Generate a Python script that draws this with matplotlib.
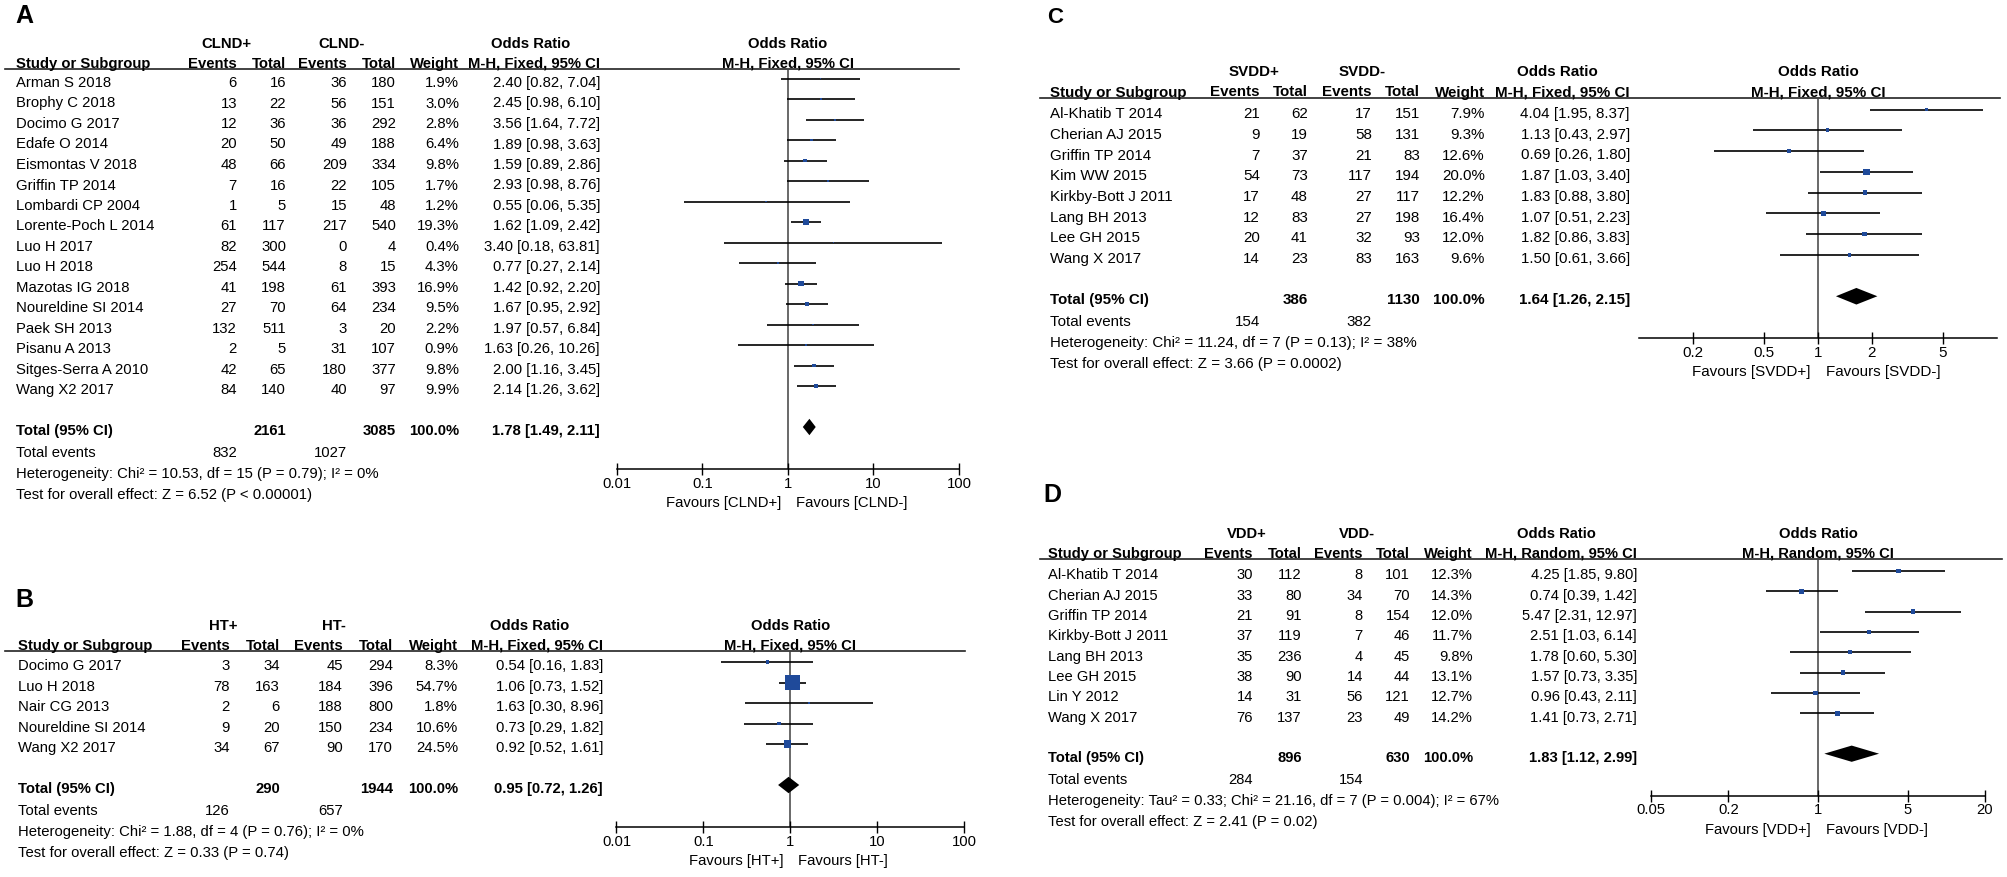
import matplotlib.pyplot as plt
from matplotlib.ticker import NullLocator

plt.rcParams["font.family"] = ["Liberation Sans", "DejaVu Sans"]

# ---------------- data: panel A (CLND) ----------------
a_studies = ["Arman S 2018", "Brophy C 2018", "Docimo G 2017", "Edafe O 2014",
             "Eismontas V 2018", "Griffin TP 2014", "Lombardi CP 2004",
             "Lorente-Poch L 2014", "Luo H 2017", "Luo H 2018", "Mazotas IG 2018",
             "Noureldine SI 2014", "Paek SH 2013", "Pisanu A 2013",
             "Sitges-Serra A 2010", "Wang X2 2017"]
a_ev_pos = [6, 13, 12, 20, 48, 7, 1, 61, 82, 254, 41, 27, 132, 2, 42, 84]
a_tot_pos = [16, 22, 36, 50, 66, 16, 5, 117, 300, 544, 198, 70, 511, 5, 65, 140]
a_ev_neg = [36, 56, 36, 49, 209, 22, 15, 217, 0, 8, 61, 64, 3, 31, 180, 40]
a_tot_neg = [180, 151, 292, 188, 334, 105, 48, 540, 4, 15, 393, 234, 20, 107, 377, 97]
a_weight = [1.9, 3.0, 2.8, 6.4, 9.8, 1.7, 1.2, 19.3, 0.4, 4.3, 16.9, 9.5, 2.2, 0.9, 9.8, 9.9]
a_or = [2.40, 2.45, 3.56, 1.89, 1.59, 2.93, 0.55, 1.62, 3.40, 0.77, 1.42, 1.67, 1.97, 1.63, 2.00, 2.14]
a_lo = [0.82, 0.98, 1.64, 0.98, 0.89, 0.98, 0.06, 1.09, 0.18, 0.27, 0.92, 0.95, 0.57, 0.26, 1.16, 1.26]
a_hi = [7.04, 6.10, 7.72, 3.63, 2.86, 8.76, 5.35, 2.42, 63.81, 2.14, 2.20, 2.92, 6.84, 10.26, 3.45, 3.62]
a_totals = [2161, 3085]
a_total_or = [1.78, 1.49, 2.11]
a_total_events = [832, 1027]
a_het = "Heterogeneity: Chi\u00b2 = 10.53, df = 15 (P = 0.79); I\u00b2 = 0%"
a_test = "Test for overall effect: Z = 6.52 (P < 0.00001)"
a_groups = ["CLND+", "CLND-"]
a_ticks = [0.01, 0.1, 1, 10, 100]
a_tick_labels = ["0.01", "0.1", "1", "10", "100"]

# ---------------- data: panel B (HT) ----------------
b_studies = ["Docimo G 2017", "Luo H 2018", "Nair CG 2013", "Noureldine SI 2014", "Wang X2 2017"]
b_ev_pos = [3, 78, 2, 9, 34]
b_tot_pos = [34, 163, 6, 20, 67]
b_ev_neg = [45, 184, 188, 150, 90]
b_tot_neg = [294, 396, 800, 234, 170]
b_weight = [8.3, 54.7, 1.8, 10.6, 24.5]
b_or = [0.54, 1.06, 1.63, 0.73, 0.92]
b_lo = [0.16, 0.73, 0.30, 0.29, 0.52]
b_hi = [1.83, 1.52, 8.96, 1.82, 1.61]
b_totals = [290, 1944]
b_total_or = [0.95, 0.72, 1.26]
b_total_events = [126, 657]
b_het = "Heterogeneity: Chi\u00b2 = 1.88, df = 4 (P = 0.76); I\u00b2 = 0%"
b_test = "Test for overall effect: Z = 0.33 (P = 0.74)"
b_groups = ["HT+", "HT-"]
b_ticks = [0.01, 0.1, 1, 10, 100]
b_tick_labels = ["0.01", "0.1", "1", "10", "100"]

# ---------------- data: panel C (SVDD) ----------------
c_studies = ["Al-Khatib T 2014", "Cherian AJ 2015", "Griffin TP 2014", "Kim WW 2015",
             "Kirkby-Bott J 2011", "Lang BH 2013", "Lee GH 2015", "Wang X 2017"]
c_ev_pos = [21, 9, 7, 54, 17, 12, 20, 14]
c_tot_pos = [62, 19, 37, 73, 48, 83, 41, 23]
c_ev_neg = [17, 58, 21, 117, 27, 27, 32, 83]
c_tot_neg = [151, 131, 83, 194, 117, 198, 93, 163]
c_weight = [7.9, 9.3, 12.6, 20.0, 12.2, 16.4, 12.0, 9.6]
c_or = [4.04, 1.13, 0.69, 1.87, 1.83, 1.07, 1.82, 1.50]
c_lo = [1.95, 0.43, 0.26, 1.03, 0.88, 0.51, 0.86, 0.61]
c_hi = [8.37, 2.97, 1.80, 3.40, 3.80, 2.23, 3.83, 3.66]
c_totals = [386, 1130]
c_total_or = [1.64, 1.26, 2.15]
c_total_events = [154, 382]
c_het = "Heterogeneity: Chi\u00b2 = 11.24, df = 7 (P = 0.13); I\u00b2 = 38%"
c_test = "Test for overall effect: Z = 3.66 (P = 0.0002)"
c_groups = ["SVDD+", "SVDD-"]
c_ticks = [0.2, 0.5, 1, 2, 5]
c_tick_labels = ["0.2", "0.5", "1", "2", "5"]

# ---------------- data: panel D (VDD) ----------------
d_studies = ["Al-Khatib T 2014", "Cherian AJ 2015", "Griffin TP 2014", "Kirkby-Bott J 2011",
             "Lang BH 2013", "Lee GH 2015", "Lin Y 2012", "Wang X 2017"]
d_ev_pos = [30, 33, 21, 37, 35, 38, 14, 76]
d_tot_pos = [112, 80, 91, 119, 236, 90, 31, 137]
d_ev_neg = [8, 34, 8, 7, 4, 14, 56, 23]
d_tot_neg = [101, 70, 154, 46, 45, 44, 121, 49]
d_weight = [12.3, 14.3, 12.0, 11.7, 9.8, 13.1, 12.7, 14.2]
d_or = [4.25, 0.74, 5.47, 2.51, 1.78, 1.57, 0.96, 1.41]
d_lo = [1.85, 0.39, 2.31, 1.03, 0.60, 0.73, 0.43, 0.73]
d_hi = [9.80, 1.42, 12.97, 6.14, 5.30, 3.35, 2.11, 2.71]
d_totals = [896, 630]
d_total_or = [1.83, 1.12, 2.99]
d_total_events = [284, 154]
d_het = "Heterogeneity: Tau\u00b2 = 0.33; Chi\u00b2 = 21.16, df = 7 (P = 0.004); I\u00b2 = 67%"
d_test = "Test for overall effect: Z = 2.41 (P = 0.02)"
d_groups = ["VDD+", "VDD-"]
d_ticks = [0.05, 0.2, 1, 5, 20]
d_tick_labels = ["0.05", "0.2", "1", "5", "20"]

# ---------------- layout (pixels of the 2008x878 image) ----------------
W, H = 2008, 878
BLUE = "#1f4a9a"

LAYOUT = {
    "A": dict(letter=(15, 23), letter_fs=18, fs=10.7, study_x=16,
              cols=[237, 286, 347, 396, 459, 600], group_x=[226, 342], or_head_x=531,
              forest_px=(617, 959), xlim=(0.01, 100), line_x=(5, 959), line_y=70,
              row0=79.5, dy=20.5, method="Fixed"),
    "B": dict(letter=(15, 607), letter_fs=18, fs=10.7, study_x=18,
              cols=[230, 280, 343, 393, 458, 603], group_x=[223, 334], or_head_x=530,
              forest_px=(616.5, 964.5), xlim=(0.01, 100), line_x=(5, 965), line_y=652,
              row0=663, dy=20.5, method="Fixed"),
    "C": dict(letter=(1047, 23), letter_fs=16, fs=10.9, study_x=1050,
              cols=[1260, 1308, 1372, 1420, 1485, 1630], group_x=[1254, 1362], or_head_x=1557,
              forest_px=(1639.4, 1996.6), xlim=(0.1, 10), line_x=(1040, 2000), line_y=98.5,
              row0=110.5, dy=20.75, method="Fixed"),
    "D": dict(letter=(1043, 502), letter_fs=18, fs=10.6, study_x=1048,
              cols=[1253, 1302, 1363, 1410, 1473, 1637], group_x=[1247, 1357], or_head_x=1556,
              forest_px=(1651, 1985), xlim=(0.05, 20), line_x=(1040, 2002), line_y=560,
              row0=572, dy=20.3, method="Random"),
}

fig = plt.figure(figsize=(W / 100, H / 100), dpi=100)
canvas = fig.add_axes([0, 0, 1, 1])
canvas.set_xlim(0, W)
canvas.set_ylim(H, 0)
canvas.axis("off")


def put(x, y, s, fs, ha="left", bold=False):
    canvas.text(x, y, s, ha=ha, va="baseline", fontsize=fs,
                fontweight="bold" if bold else "normal", color="black")


def draw_panel(key, studies, ev1, tot1, ev2, tot2, weight, est, lo, hi,
               totals, total_or, total_events, het, test, groups, ticks, tick_labels):
    lay = LAYOUT[key]
    fs = lay["fs"]
    cols = lay["cols"]
    n = len(studies)

    def row_px(r):
        return lay["row0"] + r * lay["dy"]

    put(lay["letter"][0], lay["letter"][1], key, lay["letter_fs"], bold=True)

    # header
    ly = lay["line_y"]
    put(lay["group_x"][0], ly - 22, groups[0], fs, ha="center", bold=True)
    put(lay["group_x"][1], ly - 22, groups[1], fs, ha="center", bold=True)
    put(lay["or_head_x"], ly - 22, "Odds Ratio", fs, ha="center", bold=True)
    put(lay["study_x"], ly - 2, "Study or Subgroup", fs, bold=True)
    for x, s in zip(cols[:5], ["Events", "Total", "Events", "Total", "Weight"]):
        put(x, ly - 2, s, fs, ha="right", bold=True)
    method = f"M-H, {lay['method']}, 95% CI"
    put(cols[5], ly - 2, method, fs, ha="right", bold=True)
    canvas.plot(lay["line_x"], [ly, ly], color="#222222", lw=1.2)

    # study rows
    for i in range(n):
        yb = row_px(i) + 7.5
        put(lay["study_x"], yb, studies[i], fs)
        put(cols[0], yb, f"{ev1[i]}", fs, ha="right")
        put(cols[1], yb, f"{tot1[i]}", fs, ha="right")
        put(cols[2], yb, f"{ev2[i]}", fs, ha="right")
        put(cols[3], yb, f"{tot2[i]}", fs, ha="right")
        put(cols[4], yb, f"{weight[i]:.1f}%", fs, ha="right")
        put(cols[5], yb, f"{est[i]:.2f} [{lo[i]:.2f}, {hi[i]:.2f}]", fs, ha="right")

    # summary rows
    y_t = row_px(n + 1)
    put(lay["study_x"], y_t + 7, "Total (95% CI)", fs, bold=True)
    put(cols[1], y_t + 7, f"{totals[0]}", fs, ha="right", bold=True)
    put(cols[3], y_t + 7, f"{totals[1]}", fs, ha="right", bold=True)
    put(cols[4], y_t + 7, "100.0%", fs, ha="right", bold=True)
    put(cols[5], y_t + 7, f"{total_or[0]:.2f} [{total_or[1]:.2f}, {total_or[2]:.2f}]",
        fs, ha="right", bold=True)
    put(lay["study_x"], y_t + 29, "Total events", fs)
    put(cols[0], y_t + 29, f"{total_events[0]}", fs, ha="right")
    put(cols[2], y_t + 29, f"{total_events[1]}", fs, ha="right")
    put(lay["study_x"], y_t + 50, het, fs)
    put(lay["study_x"], y_t + 71, test, fs)

    # forest plot axes
    x0, x1 = lay["forest_px"]
    y_axis = y_t + 42
    ax = fig.add_axes([x0 / W, 1 - y_axis / H, (x1 - x0) / W, (y_axis - ly) / H])
    ax.set_xscale("log")
    ax.set_xlim(*lay["xlim"])
    ax.set_ylim((y_axis - lay["row0"]) / lay["dy"], (ly - lay["row0"]) / lay["dy"])
    ax.patch.set_visible(False)
    for side in ("top", "left", "right"):
        ax.spines[side].set_visible(False)
    ax.spines["bottom"].set_linewidth(1.1)
    ax.set_yticks([])
    ax.set_xticks(ticks)
    ax.set_xticklabels(tick_labels)
    ax.xaxis.set_minor_locator(NullLocator())
    ax.tick_params(axis="x", direction="inout", length=8.6, width=1.0, pad=0.5,
                   labelsize=fs)

    ax.axvline(1, color="#404040", lw=1.1, zorder=1)
    rows = list(range(n))
    ax.hlines(rows, lo, hi, color="black", lw=1.2, zorder=2)
    sizes = [((1.3 + 0.25 * w) * 0.72) ** 2 for w in weight]
    ax.scatter(est, rows, s=sizes, marker="s", color=BLUE, linewidths=0, zorder=3)
    h = 0.4
    ax.fill([total_or[1], total_or[0], total_or[2], total_or[0]],
            [n + 1, n + 1 - h, n + 1, n + 1 + h], color="black", lw=0, zorder=3)

    tr = ax.get_xaxis_transform()
    ax.annotate("Odds Ratio", xy=(1, 1), xycoords=tr, xytext=(0, 22),
                textcoords="offset pixels", ha="center", va="baseline",
                fontsize=fs, fontweight="bold")
    ax.annotate(method, xy=(1, 1), xycoords=tr, xytext=(0, 2),
                textcoords="offset pixels", ha="center", va="baseline",
                fontsize=fs, fontweight="bold")
    ax.annotate(f"Favours [{groups[0]}]", xy=(1, 0), xycoords=tr, xytext=(-7, -37),
                textcoords="offset pixels", ha="right", va="baseline", fontsize=fs)
    ax.annotate(f"Favours [{groups[1]}]", xy=(1, 0), xycoords=tr, xytext=(8, -37),
                textcoords="offset pixels", ha="left", va="baseline", fontsize=fs)


draw_panel("A", a_studies, a_ev_pos, a_tot_pos, a_ev_neg, a_tot_neg, a_weight, a_or, a_lo, a_hi,
           a_totals, a_total_or, a_total_events, a_het, a_test, a_groups, a_ticks, a_tick_labels)
draw_panel("B", b_studies, b_ev_pos, b_tot_pos, b_ev_neg, b_tot_neg, b_weight, b_or, b_lo, b_hi,
           b_totals, b_total_or, b_total_events, b_het, b_test, b_groups, b_ticks, b_tick_labels)
draw_panel("C", c_studies, c_ev_pos, c_tot_pos, c_ev_neg, c_tot_neg, c_weight, c_or, c_lo, c_hi,
           c_totals, c_total_or, c_total_events, c_het, c_test, c_groups, c_ticks, c_tick_labels)
draw_panel("D", d_studies, d_ev_pos, d_tot_pos, d_ev_neg, d_tot_neg, d_weight, d_or, d_lo, d_hi,
           d_totals, d_total_or, d_total_events, d_het, d_test, d_groups, d_ticks, d_tick_labels)

fig.savefig("out.png", dpi=100)
plt.close(fig)
